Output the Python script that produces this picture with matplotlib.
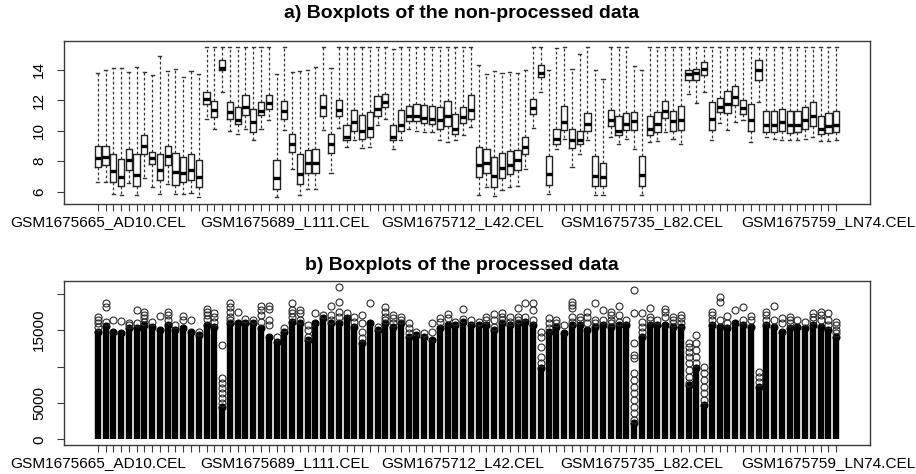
import matplotlib
matplotlib.use("Agg")
import matplotlib.pyplot as plt

plt.rcParams['font.family'] = ['Liberation Sans', 'DejaVu Sans']

n_samples = 96
shown_labels = {1: "GSM1675665_AD10.CEL", 25: "GSM1675689_L111.CEL",
                48: "GSM1675712_L42.CEL", 71: "GSM1675735_L82.CEL",
                95: "GSM1675759_LN74.CEL"}

# a) non-processed (log2) data, one entry per array
raw_low = [6.61, 6.60, 5.84, 5.80, 6.54, 5.80, 6.90, 6.28, 5.84, 6.50, 5.84, 5.84,
           5.89, 5.62, 10.78, 10.12, 12.53, 9.96, 9.79, 10.12, 9.35, 10.12, 10.67, 5.67,
           10.05, 7.49, 5.80, 6.17, 6.17, 10.05, 7.20, 10.18, 8.91, 9.39, 8.87, 8.91,
           10.34, 10.78, 8.80, 9.35, 10.12, 10.00, 9.90, 9.90, 9.39, 9.24, 9.35, 9.68,
           10.23, 5.80, 6.28, 5.73, 6.10, 6.28, 6.39, 7.49, 10.18, 12.53, 5.84, 8.80,
           9.46, 7.60, 8.47, 9.39, 5.80, 5.80, 9.57, 9.09, 9.46, 8.80, 5.80, 9.24,
           9.31, 9.90, 9.46, 9.09, 12.42, 11.81, 12.53, 9.35, 10.49, 10.05, 10.56, 10.67,
           9.24, 11.87, 9.57, 9.46, 9.35, 9.35, 9.35, 9.46, 9.57, 9.31, 9.31, 9.35]
raw_q1 = [7.60, 7.71, 6.61, 6.39, 7.38, 6.39, 8.47, 7.82, 6.76, 7.77, 6.46, 6.61,
          6.76, 6.28, 11.72, 10.89, 13.96, 10.78, 10.45, 11.00, 9.90, 11.00, 11.43, 6.17,
          10.78, 8.58, 6.50, 7.20, 7.20, 10.93, 8.52, 10.93, 9.35, 9.96, 9.46, 9.57,
          10.93, 11.54, 9.35, 9.96, 10.62, 10.62, 10.49, 10.40, 10.12, 10.27, 9.79, 10.49,
          10.78, 6.98, 7.20, 6.32, 6.89, 7.16, 7.42, 8.47, 11.06, 13.52, 6.46, 9.13,
          10.05, 8.87, 9.09, 9.96, 6.39, 6.39, 10.27, 9.68, 10.05, 10.05, 6.39, 9.68,
          9.90, 10.84, 9.96, 10.05, 13.34, 13.30, 13.63, 10.05, 11.21, 11.15, 11.65, 11.06,
          10.00, 13.34, 9.90, 9.90, 9.96, 9.83, 9.90, 10.12, 10.27, 9.75, 9.83, 9.90]
raw_med = [8.21, 8.25, 7.33, 6.98, 8.04, 7.09, 9.02, 8.21, 7.42, 8.32, 7.31, 7.20,
           7.42, 6.94, 12.09, 11.32, 14.11, 11.21, 10.71, 11.54, 10.56, 11.28, 11.81, 6.89,
           11.28, 9.13, 7.16, 7.86, 7.86, 11.54, 9.13, 11.37, 9.61, 10.56, 10.00, 10.18,
           11.43, 11.87, 9.57, 10.34, 10.93, 10.93, 10.84, 10.78, 10.71, 10.93, 10.12, 10.89,
           11.37, 7.77, 7.86, 7.05, 7.53, 7.77, 8.04, 8.91, 11.50, 13.80, 7.16, 9.46,
           10.56, 9.39, 9.39, 10.45, 7.05, 6.98, 10.67, 10.00, 10.45, 10.62, 7.11, 10.12,
           10.45, 11.28, 10.62, 10.67, 13.74, 13.78, 14.07, 10.78, 11.54, 11.76, 12.20, 11.50,
           10.71, 13.96, 10.34, 10.34, 10.56, 10.34, 10.34, 10.67, 10.93, 10.12, 10.27, 10.34]
raw_q3 = [8.96, 9.02, 8.47, 8.14, 8.80, 8.43, 9.68, 8.58, 8.43, 9.02, 8.52, 8.25,
          8.47, 8.04, 12.53, 11.94, 14.66, 11.87, 11.54, 12.31, 11.43, 11.87, 12.31, 8.04,
          11.94, 9.79, 8.47, 8.74, 8.80, 12.31, 9.75, 11.98, 10.34, 11.37, 11.00, 11.21,
          12.25, 12.38, 10.34, 11.37, 11.59, 11.76, 11.65, 11.59, 11.54, 11.94, 11.06, 11.54,
          12.31, 8.91, 8.80, 8.25, 8.52, 8.65, 8.74, 9.57, 12.09, 14.29, 8.36, 10.12,
          11.59, 10.12, 10.00, 11.15, 8.30, 7.86, 11.32, 10.93, 11.15, 11.21, 8.30, 10.93,
          11.21, 11.94, 11.28, 11.59, 14.00, 14.07, 14.50, 11.87, 12.16, 12.60, 12.90, 11.98,
          11.76, 14.61, 11.28, 11.28, 11.43, 11.28, 11.28, 11.54, 11.87, 10.93, 11.15, 11.28]
raw_high = [13.78, 14.00, 14.10, 14.10, 13.85, 14.18, 13.85, 13.63, 14.88, 13.91, 14.07, 13.52,
            13.91, 13.74, 15.5, 15.5, 15.5, 15.5, 15.5, 15.5, 15.5, 15.5, 15.5, 13.74,
            15.5, 13.85, 13.91, 13.96, 14.18, 15.5, 14.13, 15.5, 15.5, 15.5, 15.5, 15.5,
            15.5, 15.5, 15.38, 15.5, 15.5, 15.5, 15.5, 15.5, 15.5, 15.5, 15.5, 15.5,
            15.5, 14.29, 13.74, 13.91, 13.78, 13.85, 13.78, 14.00, 15.5, 15.5, 14.00, 15.45,
            15.5, 14.07, 15.00, 15.5, 13.96, 13.41, 15.5, 15.5, 15.5, 14.22, 13.96, 15.5,
            15.5, 15.5, 15.5, 15.5, 15.5, 15.5, 15.5, 15.5, 15.5, 15.5, 15.5, 15.5,
            15.5, 15.5, 15.5, 15.5, 15.5, 15.5, 15.5, 15.5, 15.5, 15.5, 15.5, 15.5]

# b) processed data: top of the solid mass of points, and the sparse outliers above it
proc_solid = [14800, 15580, 14800, 14570, 15260, 15260, 15720, 15490, 15030, 15720, 15030, 15260,
              14800, 14340, 15720, 15490, 4490, 15950, 15950, 15950, 15950, 15260, 14110, 13430,
              14800, 16180, 15950, 13660, 15950, 16630, 15950, 15950, 16630, 15490, 13200, 15950,
              15030, 15950, 15490, 15950, 14110, 14340, 14110, 13660, 15260, 15720, 15720, 16180,
              15720, 15720, 15720, 15030, 15950, 15720, 15950, 16180, 15720, 9760, 14800, 15490,
              14570, 15720, 15720, 15030, 15490, 15720, 15490, 15720, 15720, 2200, 14110, 15720,
              15720, 15720, 15490, 15490, 7470, 9760, 4720, 15720, 15490, 15260, 15950, 15720,
              15490, 7240, 15720, 15490, 14800, 15260, 15490, 15260, 15720, 15490, 15030, 14110]
proc_outliers = [
    [16860, 16400, 15950, 15400], [18700, 18150, 16180], [16400], [16310],
    [16040, 15720], [17780, 15950], [17550, 17090, 16630, 16180], [16180],
    [16950], [17550, 17090, 16400], [15720], [16950, 16400],
    [16400], [14800], [17870, 17550, 17090, 16500], [17410, 16860, 16180],
    [12970, 8380, 7700, 7010, 6320, 5630, 4950], [18700, 18240, 17550, 16860, 16400], [17550], [16500],
    [16400], [18330, 17780, 17090, 16180], [18330, 17870, 16400, 15720], [14110],
    [15260], [18700, 17780, 17320, 16860], [17780, 17410, 16400], [15720, 15030, 14110],
    [17320], [17090], [18330, 17090, 16400], [20990, 18830, 17550, 16860],
    [17320], [16860, 16180], [17090, 15950, 14800, 13890], [18700],
    [15490], [18240, 17550, 16860, 16400], [17090, 16630, 15950], [16770, 16400],
    [15950, 15260, 14570], [14800], [14570], [16040, 14800],
    [16630, 16180], [17180, 16630], [16180], [17870, 16500],
    [16400], [16180], [16860, 16400], [17180, 16400, 15490],
    [17320, 16860, 16400], [16860, 16180], [18010, 16860, 16400], [18700, 16860],
    [18700, 17780, 16400], [14800, 14110, 12740, 11360, 10450], [16630, 15950, 15260], [16400, 15950],
    [15720], [18930, 18470, 18010, 16860, 16180], [16860, 16400], [17550, 16860, 15950],
    [18700, 16400, 15950], [17780, 16400], [17550, 17090, 16400, 15950], [18330, 17090, 16180],
    [16400], [20530, 17320, 13200, 11590, 11130, 9070, 8160, 7240, 6320, 5410, 4490, 3570, 2660],
    [17320, 16180, 15490, 14800], [18010, 16860, 16400],
    [16400], [17870, 17550, 16860], [16860, 16400, 15950], [17090, 16630, 15950],
    [13200, 12740, 12050, 11360, 10450, 9530, 8610, 7700], [14340, 13200, 12280, 11360, 10450],
    [9990, 9070, 8160, 7240, 6320, 5410], [17550, 17090, 16400],
    [19610, 18930, 16400], [16950, 15950], [17780], [18240, 16400],
    [16950, 16400], [9300, 8610, 7930], [17550, 17090, 16400], [18330, 16400],
    [16630, 15950], [16860, 16400, 15950], [16400], [16180],
    [17320, 16860, 16400], [17550, 17090, 16400], [17320, 16400, 15720], [16180, 15720, 15030, 14570],
]

positions = list(range(1, n_samples + 1))
tick_text = [shown_labels.get(p, "") for p in positions]
frame_col = '#3a3a3a'

fig = plt.figure(figsize=(9.16, 4.74), dpi=100)
ax1 = fig.add_axes([64 / 916, 1 - 204 / 474, 806 / 916, 163.3 / 474])
ax2 = fig.add_axes([64 / 916, 1 - 445 / 474, 806 / 916, 164 / 474])

stats = []
for i in range(n_samples):
    stats.append(dict(med=raw_med[i], q1=raw_q1[i], q3=raw_q3[i],
                      whislo=raw_low[i], whishi=raw_high[i], fliers=[]))
ax1.bxp(stats, positions=positions, widths=0.8, capwidths=0.4, showfliers=False,
        boxprops=dict(color='#222222', lw=1.0),
        medianprops=dict(color='black', lw=2.4, solid_capstyle='butt'),
        whiskerprops=dict(color='#333333', lw=0.9, linestyle=(0, (2.2, 1.8))),
        capprops=dict(color='#333333', lw=1.0))
ax1.set_ylim(5.18, 15.9)
ax1.set_yticks([6, 8, 10, 12, 14], ['6', '8', '10', '12', '14'], rotation=90, va='center')

ax2.vlines(positions, 0, proc_solid, colors='black', lw=4.6, capstyle='butt')
ax2.plot(positions, proc_solid, 'o', ms=5, mfc='black', mec='black', mew=0.8)
for p, outs in zip(positions, proc_outliers):
    ax2.plot([p] * len(outs), outs, 'o', ms=5, mfc='none', mec='#2a2a2a', mew=0.8)
ax2.set_ylim(-784, 21774)
ax2.set_yticks([0, 5000, 10000, 15000, 20000], ['0', '5000', '', '15000', ''],
               rotation=90, va='center')

for ax in (ax1, ax2):
    ax.set_xlim(0.5 - 0.04 * n_samples, n_samples + 0.5 + 0.04 * n_samples)
    ax.set_xticks(positions, tick_text)
    ax.tick_params(axis='x', direction='out', length=5, width=0.8, color=frame_col,
                   labelsize=11.1, pad=3)
    ax.tick_params(axis='y', direction='out', length=5, width=0.8, color=frame_col,
                   labelsize=11, pad=8)
    for s in ax.spines.values():
        s.set_color(frame_col)
        s.set_linewidth(1.0)

fig.text(462 / 916, 1 - 14 / 474, 'a) Boxplots of the non-processed data',
         ha='center', va='center', fontsize=14, fontweight='bold')
fig.text(462 / 916, 1 - 265 / 474, 'b) Boxplots of the processed data',
         ha='center', va='center', fontsize=14, fontweight='bold')

fig.savefig('out.png', dpi=100)
